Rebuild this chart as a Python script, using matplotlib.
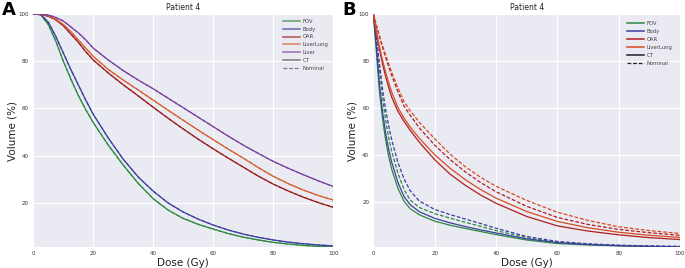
import matplotlib
matplotlib.use("Agg")
import matplotlib.pyplot as plt
from matplotlib.lines import Line2D

# ---- Panel A: DVH, CT vs nominal overlap almost exactly ----
DOSE_A = [0, 2.5, 5, 7.5, 10, 12.5, 15, 17.5, 20, 25, 30, 35, 40, 45, 50,
          55, 60, 65, 70, 75, 80, 85, 90, 95, 100]
FOV_A = [100, 99.6, 95.5, 88.5, 80, 72.5, 65.5, 59.5, 54, 44.5, 36, 28.3, 21.8,
         17, 13.5, 11, 9, 7.1, 5.6, 4.4, 3.4, 2.7, 2.1, 1.7, 1.4]
BODY_A = [100, 99.7, 96.5, 90.5, 83.5, 76.5, 70, 63.5, 57.5, 47.5, 38.5, 31, 25,
          20, 16.2, 13.2, 10.7, 8.6, 6.9, 5.5, 4.4, 3.5, 2.8, 2.3, 1.9]
OAR_A = [100, 99.8, 99, 97.5, 95, 91.5, 88, 84, 80.5, 75, 70, 65.3, 60.5, 55.8,
         51.3, 47, 42.9, 39, 35.2, 31.4, 28, 25.1, 22.5, 20.2, 18.2]
LIVERLUNG_A = [100, 99.8, 99.2, 97.8, 95.5, 92.5, 89, 85.5, 82, 76.5, 72, 67.8,
               63.5, 59.2, 55, 50.8, 46.8, 42.8, 39, 35, 31.3, 28.2, 25.5, 23.2,
               21.3]
LIVER_A = [100, 99.9, 99.5, 98.5, 97, 94.5, 92, 89, 85.5, 80.5, 76, 72, 68.3,
           64.3, 60.3, 56.3, 52.3, 48.3, 44.5, 41, 37.6, 34.7, 32, 29.4, 27]

# ---- Panel B: CT (solid) vs nominal (dashed) ----
DOSE_B = [0, 1, 2, 3, 4, 5, 6, 8, 10, 12, 15, 20, 25, 30, 35, 40, 50, 60, 70,
          80, 90, 100]
FOV_B_CT = [100, 84, 67, 55.5, 46.5, 39.5, 34, 26, 20.5, 17.3, 14.7, 12, 10.3,
            8.9, 7.6, 6.3, 4.0, 2.5, 1.9, 1.5, 1.2, 1.0]
FOV_B_NOM = [100, 89, 76, 64.5, 55, 47.5, 41.5, 32.5, 25.5, 21, 17.8, 15.2,
             13.3, 11.5, 9.8, 8.0, 5.0, 3.0, 2.2, 1.7, 1.4, 1.2]
BODY_B_CT = [100, 86, 70, 58.5, 49.5, 42.5, 37, 28.5, 22.5, 19, 16, 13.2,
             11.3, 9.7, 8.3, 7.0, 4.5, 2.9, 2.1, 1.6, 1.3, 1.1]
BODY_B_NOM = [100, 90, 79, 68, 59.5, 52.5, 46.5, 37, 30, 25, 20.5, 17, 14.8,
              12.9, 11, 9, 5.5, 3.4, 2.4, 1.8, 1.5, 1.3]
OAR_B_CT = [100, 92, 85, 78.8, 73.5, 68.8, 64.6, 58.7, 54.4, 50.6, 45.5, 38.1,
            32, 27.2, 23.1, 19.6, 14, 10, 7.8, 6.2, 5.0, 4.2]
OAR_B_NOM = [100, 95, 90.2, 85.8, 81.6, 77.6, 73.9, 67, 60.9, 57, 51.6, 44.3,
             38.2, 32.9, 28.4, 24.5, 18.3, 13.6, 10.6, 8.5, 7.1, 6.0]
LIVERLUNG_B_CT = [100, 92.5, 86, 80.3, 75.3, 70.8, 66.8, 60.3, 55.8, 52, 47.2,
                  40.2, 34.5, 29.6, 25.4, 21.8, 16.1, 11.9, 9.2, 7.3, 6.0, 5.1]
LIVERLUNG_B_NOM = [100, 95.3, 90.8, 86.6, 82.6, 78.8, 75.2, 68.6, 62.8, 58.9,
                   54, 47, 40.5, 35.1, 30.6, 26.8, 20.8, 15.8, 12.3, 9.6, 8.0,
                   6.8]

GREEN = "#2b8a3e"
BLUE = "#3c3f9e"
DARKRED = "#9a1c1c"
ORANGE = "#d4602e"
PURPLE = "#7a3f9c"
REDB = "#b01e1e"
ORANGEB = "#d84a22"

plt.rcParams.update({
    "font.family": "DejaVu Sans",
    "axes.facecolor": "#eaeaf2",
    "axes.edgecolor": "white",
    "grid.color": "white",
    "grid.linewidth": 0.8,
})

fig = plt.figure(figsize=(6.85, 2.68), dpi=100)
axA = fig.add_axes([0.0486, 0.0772, 0.438, 0.871])
axB = fig.add_axes([0.545, 0.0772, 0.4477, 0.871])

LW = 0.9
for vals, color in [(FOV_A, GREEN), (BODY_A, BLUE), (OAR_A, DARKRED),
                    (LIVERLUNG_A, ORANGE), (LIVER_A, PURPLE)]:
    axA.plot(DOSE_A, vals, color=color, lw=LW)
    axA.plot(DOSE_A, vals, color=color, lw=LW, ls=(0, (3, 1.5)), alpha=0.8)

for ct, nom, color in [(FOV_B_CT, FOV_B_NOM, GREEN), (BODY_B_CT, BODY_B_NOM, BLUE),
                       (OAR_B_CT, OAR_B_NOM, REDB),
                       (LIVERLUNG_B_CT, LIVERLUNG_B_NOM, ORANGEB)]:
    axB.plot(DOSE_B, ct, color=color, lw=LW)
    axB.plot(DOSE_B, nom, color=color, lw=LW, ls=(0, (3, 1.5)))

for ax, ylo in [(axA, 1.3), (axB, 0.9)]:
    ax.set_xlim(0, 100)
    ax.set_ylim(ylo, 100)
    ax.set_xticks([0, 20, 40, 60, 80, 100])
    ax.set_yticks([20, 40, 60, 80, 100])
    ax.tick_params(length=0, labelsize=4, pad=3, colors="#333333")
    ax.grid(True)
    ax.set_axisbelow(True)
    for s in ax.spines.values():
        s.set_visible(False)
    ax.set_title("Patient 4", fontsize=5.5, pad=3, color="#222222")
    ax.set_xlabel("Dose (Gy)", fontsize=7.5, labelpad=1, color="#222222")
    ax.set_ylabel("Volume (%)", fontsize=7.5, labelpad=1, color="#222222")


def handles(colors, ct_color, alpha):
    hs = [Line2D([], [], color=c, lw=1.1, alpha=alpha) for c in colors]
    hs.append(Line2D([], [], color=ct_color, lw=1.1, alpha=alpha))
    hs.append(Line2D([], [], color=ct_color, lw=0.9, ls=(0, (3, 1.5)), alpha=alpha))
    return hs


legA = axA.legend(handles(
    [GREEN, BLUE, DARKRED, ORANGE, PURPLE], "#555555", 0.75),
    ["FOV", "Body", "OAR", "LiverLung", "Liver", "CT", "Nominal"],
    loc="upper right", frameon=False, fontsize=3.8, handlelength=3.2,
    labelspacing=0.55, borderaxespad=0.5, handletextpad=0.6)
legB = axB.legend(handles(
    [GREEN, BLUE, REDB, ORANGEB], "#222222", 1.0),
    ["FOV", "Body", "OAR", "LiverLung", "CT", "Nominal"],
    loc="upper right", frameon=False, fontsize=3.8, handlelength=3.2,
    labelspacing=0.55, borderaxespad=1.0, handletextpad=0.6)
for leg in (legA, legB):
    for t in leg.get_texts():
        t.set_color("#444444")

fig.text(0.003, 0.995, "A", fontsize=13, fontweight="bold", va="top", ha="left")
fig.text(0.5, 0.995, "B", fontsize=13, fontweight="bold", va="top", ha="left")

fig.savefig("out.png", dpi=100)
